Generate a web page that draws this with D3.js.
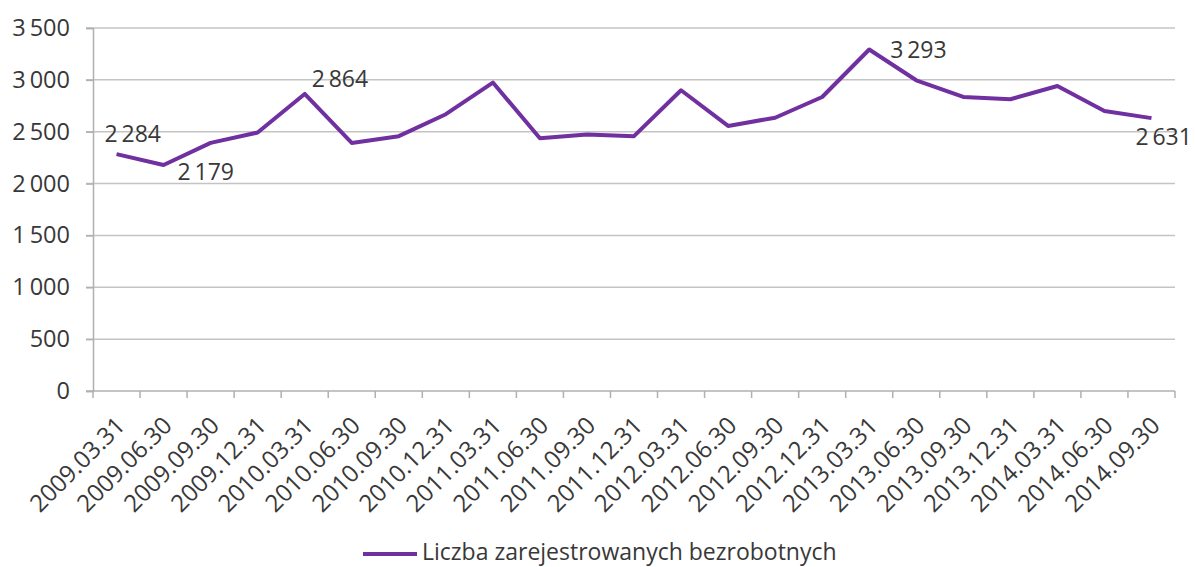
<!DOCTYPE html>
<html>
<head>
<meta charset="utf-8">
<script src="https://cdn.jsdelivr.net/npm/d3@7"></script>
<style>
  body { margin: 0; background: #fff; }
  text { font-family: "Open Sans", sans-serif; fill: #383838; }
</style>
</head>
<body>
<div id="chart"></div>
<script>
  // quarterly dates
  const categories = [
    "2009.03.31", "2009.06.30", "2009.09.30", "2009.12.31",
    "2010.03.31", "2010.06.30", "2010.09.30", "2010.12.31",
    "2011.03.31", "2011.06.30", "2011.09.30", "2011.12.31",
    "2012.03.31", "2012.06.30", "2012.09.30", "2012.12.31",
    "2013.03.31", "2013.06.30", "2013.09.30", "2013.12.31",
    "2014.03.31", "2014.06.30", "2014.09.30"
  ];
  const values = [
    2284, 2179, 2392, 2492,
    2864, 2392, 2457, 2669,
    2974, 2437, 2473, 2457,
    2900, 2556, 2635, 2835,
    3293, 2996, 2835, 2813,
    2941, 2700, 2631
  ];
  const yTicks = [0, 500, 1000, 1500, 2000, 2500, 3000, 3500];
  const labelled = [0, 1, 4, 16, 22];
  const seriesName = "Liczba zarejestrowanych bezrobotnych";

  // where each data label sits relative to its point
  const labelOffset = {0: [-12, -12], 1: [14, 15], 4: [7, -7], 16: [21, 9], 22: [-16, 27]};

  const width = 1195, height = 567;
  const plot = {left: 93, right: 1175, top: 28, bottom: 391};
  const fmt = d => d3.format(",")(d).replace(/,/g, "\u2009");

  const svg = d3.select("#chart")
    .append("svg")
    .attr("width", width)
    .attr("height", height);

  const x = d3.scaleBand()
    .domain(categories)
    .range([plot.left, plot.right]);

  const y = d3.scaleLinear()
    .domain([0, 3500])
    .range([plot.bottom, plot.top]);

  // gridlines
  svg.append("g")
    .selectAll("line")
    .data(yTicks.slice(1))
    .enter()
    .append("line")
    .attr("x1", plot.left - 7)
    .attr("x2", plot.right)
    .attr("y1", d => y(d))
    .attr("y2", d => y(d))
    .style("stroke", "#c4c4c4")
    .style("stroke-width", 1.5);

  // y axis
  const yAxis = svg.append("g")
    .attr("transform", `translate(${plot.left},0)`)
    .call(d3.axisLeft(y).tickValues(yTicks).tickSize(7).tickFormat(fmt));
  yAxis.select(".domain").style("stroke", "#b0b0b0").style("stroke-width", 1.5);
  yAxis.selectAll(".tick line").style("stroke", "#b0b0b0").style("stroke-width", 1.5);
  yAxis.selectAll("text")
    .attr("x", -23)
    .style("font-size", "23.5px")
    .style("font-family", "'Open Sans', sans-serif")
    .style("fill", "#383838");

  // x axis with ticks at category edges
  const edges = categories.map(c => x(c)).concat([x.range()[1]]);
  const xg = svg.append("g");
  xg.append("line")
    .attr("x1", plot.left - 7)
    .attr("x2", plot.right)
    .attr("y1", y(0))
    .attr("y2", y(0))
    .style("stroke", "#b0b0b0")
    .style("stroke-width", 1.5);
  xg.selectAll(".xtick")
    .data(edges)
    .enter()
    .append("line")
    .attr("class", "xtick")
    .attr("x1", d => d)
    .attr("x2", d => d)
    .attr("y1", y(0))
    .attr("y2", y(0) + 7)
    .style("stroke", "#b0b0b0")
    .style("stroke-width", 1.5);
  xg.selectAll(".xlabel")
    .data(categories)
    .enter()
    .append("text")
    .attr("class", "xlabel")
    .attr("text-anchor", "end")
    .attr("transform", d => `translate(${x(d) + x.bandwidth() / 2 + 10},${y(0) + 36}) rotate(-45)`)
    .style("font-size", "24px")
    .text(d => d);

  // series line
  const line = d3.line()
    .x((d, i) => x(categories[i]) + x.bandwidth() / 2)
    .y(d => y(d));

  svg.append("path")
    .datum(values)
    .attr("d", line)
    .attr("fill", "none")
    .style("stroke", "#7030a0")
    .style("stroke-width", 4)
    .style("stroke-linejoin", "round");

  // data labels
  svg.append("g")
    .selectAll("text")
    .data(labelled)
    .enter()
    .append("text")
    .attr("x", i => x(categories[i]) + x.bandwidth() / 2 + labelOffset[i][0])
    .attr("y", i => y(values[i]) + labelOffset[i][1])
    .style("font-size", "23px")
    .text(i => fmt(values[i]));

  // legend
  const legend = svg.append("g").attr("transform", "translate(363,554)");
  legend.append("line")
    .attr("x1", 0)
    .attr("x2", 54)
    .style("stroke", "#7030a0")
    .style("stroke-width", 4);
  legend.append("text")
    .attr("x", 59)
    .attr("y", 6)
    .style("font-size", "23px")
    .text(seriesName);
</script>
</body>
</html>
